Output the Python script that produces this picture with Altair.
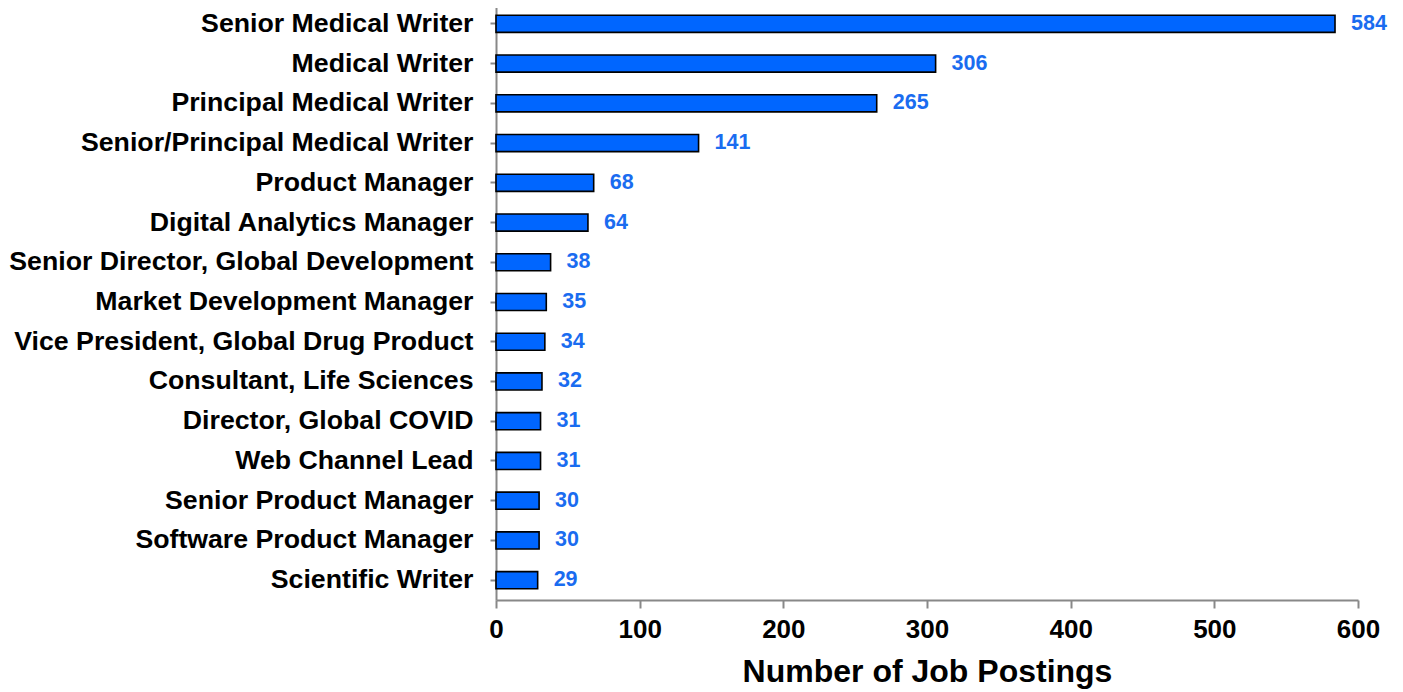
import altair as alt
import pandas as pd

titles = [
    "Senior Medical Writer",
    "Medical Writer",
    "Principal Medical Writer",
    "Senior/Principal Medical Writer",
    "Product Manager",
    "Digital Analytics Manager",
    "Senior Director, Global Development",
    "Market Development Manager",
    "Vice President, Global Drug Product",
    "Consultant, Life Sciences",
    "Director, Global COVID",
    "Web Channel Lead",
    "Senior Product Manager",
    "Software Product Manager",
    "Scientific Writer",
]
postings = [584, 306, 265, 141, 68, 64, 38, 35, 34, 32, 31, 31, 30, 30, 29]
x_ticks = [0, 100, 200, 300, 400, 500, 600]

df = pd.DataFrame({"title": titles, "count": postings})

FONT = "Liberation Sans"

y_enc = alt.Y(
    "title:N",
    sort=titles,
    scale=alt.Scale(paddingInner=0.57, paddingOuter=0.285),
    axis=alt.Axis(
        title=None,
        labelFont=FONT,
        labelFontSize=26.7,
        labelFontWeight="bold",
        labelColor="black",
        labelPadding=17,
        labelLimit=600,
        tickSize=6,
        tickColor="#888888",
        tickWidth=2,
        domainColor="#888888",
        domainWidth=2,
        grid=False,
    ),
)

x_enc = alt.X(
    "count:Q",
    scale=alt.Scale(domain=[0, 600], nice=False),
    axis=alt.Axis(
        values=x_ticks,
        title="Number of Job Postings",
        titleFont=FONT,
        titleFontSize=32,
        titleFontWeight="bold",
        titleColor="black",
        titlePadding=14,
        labelFont=FONT,
        labelFontSize=26,
        labelFontWeight="bold",
        labelColor="black",
        labelPadding=8,
        labelFlush=False,
        tickSize=8,
        tickColor="#888888",
        tickWidth=2,
        domainColor="#888888",
        domainWidth=2,
        grid=False,
    ),
)

bars = alt.Chart(df).mark_bar(
    color="#0066FF", stroke="black", strokeWidth=1.6
).encode(x=x_enc, y=y_enc)

labels = alt.Chart(df).mark_text(
    align="left",
    baseline="middle",
    dx=16,
    font=FONT,
    fontSize=21.5,
    fontWeight="bold",
    color="#1A6CF0",
).encode(
    x="count:Q",
    y=alt.Y("title:N", sort=titles),
    text="count:Q",
)

chart = (
    alt.layer(bars, labels)
    .properties(
        width=862,
        height=596,
        background="white",
        autosize=alt.AutoSizeParams(type="none"),
        padding={"left": 488, "top": -4, "right": 37, "bottom": 92},
    )
    .configure_view(stroke="transparent", strokeWidth=0)
    .configure_axis(grid=False)
)

chart.save("out.html", embed_options={"renderer": "svg", "actions": False})
